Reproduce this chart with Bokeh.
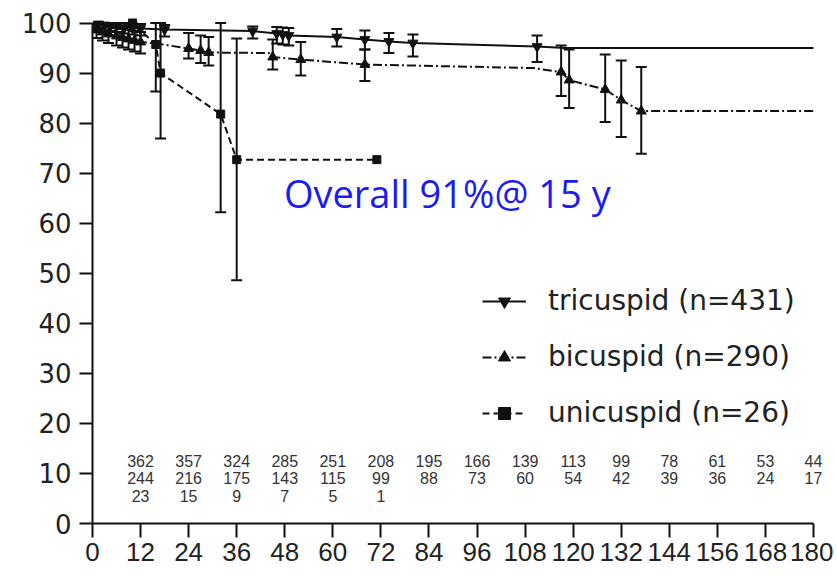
import math
from bokeh.plotting import figure
from bokeh.models import (FixedTicker, Whisker, TeeHead, ColumnDataSource,
                          Legend, LegendItem, Label, LabelSet, Range1d)
from bokeh.core.properties import value
from bokeh.embed import file_html
from bokeh.resources import INLINE

NaN = float("nan")

# ---------------- data ----------------
tri_t  = [0, 1.5, 3, 4.5, 6, 8, 10, 12, 18, 40, 46, 47.5, 49, 61, 68, 74, 80, 111, 118, 180]
tri_s  = [100, 99.8, 99.6, 99.4, 99.3, 99.1, 99.0, 98.9, 98.7, 98.4, 97.9, 97.7, 97.5, 97.2, 96.7, 96.3, 96.0, 95.3, 95.0, 95.0]
tri_lo = [NaN, 99.0, 98.7, 98.4, 98.2, 97.9, 97.7, 97.5, 97.3, 96.9, 95.9, 95.7, 95.5, 95.3, 94.7, 94.0, 93.3, 92.2, NaN, NaN]
tri_hi = [NaN, 100, 100, 100, 100, 100, 99.9, 99.8, 99.6, 99.3, 99.2, 99.1, 99.0, 98.8, 98.5, 98.0, 97.7, 97.5, NaN, NaN]
tri_mk = [0, 1, 1, 1, 1, 1, 1, 1, 1, 1, 1, 1, 1, 1, 1, 1, 1, 1, 0, 0]

bi_t  = [0, 1, 2.5, 4, 6, 7.5, 9, 10.5, 12, 16, 24, 27, 29, 44, 45, 52, 68, 110, 117, 119, 128, 132, 137, 180]
bi_s  = [100, 98.6, 98.2, 97.8, 97.4, 97.1, 96.8, 96.5, 96.2, 95.9, 94.9, 94.5, 94.1, 94.0, 93.2, 92.7, 91.7, 91.0, 90.2, 88.6, 86.7, 84.6, 82.4, 82.4]
bi_lo = [NaN, 97.0, 96.5, 96.0, 95.5, 95.1, 94.7, 94.3, 93.9, NaN, 92.9, 92.0, 91.5, NaN, 90.7, 89.5, 88.4, NaN, 85.4, 83.0, 80.2, 77.2, 73.9, NaN]
bi_hi = [NaN, 99.8, 99.6, 99.3, 99.0, 98.8, 98.6, 98.4, 98.2, NaN, 98.0, 97.5, 97.2, NaN, 96.7, 96.2, 94.7, NaN, 95.5, 94.7, 93.7, 92.5, 91.2, NaN]
bi_mk = [0, 1, 1, 1, 1, 1, 1, 1, 1, 0, 1, 1, 1, 0, 1, 1, 1, 0, 1, 1, 1, 1, 1, 0]

uni_t  = [0, 10, 15.8, 17, 32, 36, 71]
uni_s  = [100, 100, 95.7, 90.0, 81.8, 72.7, 72.7]
uni_lo = [NaN, NaN, 86.3, 76.9, 62.2, 48.6, NaN]
uni_hi = [NaN, NaN, 100, 100, 100, 96.9, NaN]
uni_mk = [0, 1, 1, 1, 1, 1, 1]

series_names = ["tricuspid (n=431)", "bicuspid (n=290)", "unicuspid (n=26)"]

risk_t = [12, 24, 36, 48, 60, 72, 84, 96, 108, 120, 132, 144, 156, 168, 180]
risk_tri = [362, 357, 324, 285, 251, 208, 195, 166, 139, 113, 99, 78, 61, 53, 44]
risk_bi  = [244, 216, 175, 143, 115, 99, 88, 73, 60, 54, 42, 39, 36, 24, 17]
risk_uni = [23, 15, 9, 7, 5, 1]

x_ticks = list(range(0, 181, 12))
y_ticks = list(range(0, 101, 10))

annotation = "Overall 91%@ 15 y"

# ---------------- figure ----------------
# frame extends a little past 180 months so the last risk column is not clipped;
# the axis line itself is bounded to 0..180
p = figure(frame_width=737, frame_height=508,
           min_border_left=92, min_border_right=4, min_border_top=15, min_border_bottom=48,
           x_range=Range1d(0, 184), y_range=Range1d(0, 101.5),
           output_backend="svg", toolbar_location=None)
p.outline_line_color = None
p.grid.visible = False
p.background_fill_color = "white"
p.border_fill_color = "white"

for ax in (p.xaxis[0], p.yaxis[0]):
    ax.axis_line_width = 2
    ax.axis_line_color = "#111111"
    ax.major_tick_line_width = 2
    ax.major_tick_line_color = "#111111"
    ax.minor_tick_line_color = None
    ax.major_tick_in = 0
    ax.major_label_text_color = "#222222"

p.xaxis.bounds = (0, 180)
p.yaxis.bounds = (0, 100)
p.xaxis.major_label_text_font = "Liberation Sans"
p.xaxis.major_label_text_font_size = "26px"
p.yaxis.major_label_text_font = "DejaVu Sans"
p.yaxis.major_label_text_font_size = "26px"

p.xaxis.ticker = FixedTicker(ticks=x_ticks)
p.yaxis.ticker = FixedTicker(ticks=y_ticks)
p.xaxis.major_tick_out = 14
p.yaxis.major_tick_out = 13
p.xaxis.major_label_standoff = 5
p.yaxis.major_label_standoff = 8

LINE = "#111111"
styles = [
    dict(dash="solid", marker="inverted_triangle", size=10),
    dict(dash="9 3 2 3", marker="triangle", size=10),
    dict(dash="7 4", marker="square", size=8),
]
data = [
    (tri_t, tri_s, tri_lo, tri_hi, tri_mk),
    (bi_t, bi_s, bi_lo, bi_hi, bi_mk),
    (uni_t, uni_s, uni_lo, uni_hi, uni_mk),
]

items = []
for (t, s, lo, hi, mk), st, name in zip(data, styles, series_names):
    ln = p.line(t, s, line_color=LINE, line_width=2, line_dash=st["dash"])
    mt = [a for a, m in zip(t, mk) if m]
    ms = [b for b, m in zip(s, mk) if m]
    sc = p.scatter(mt, ms, marker=st["marker"], size=st["size"],
                   fill_color=LINE, line_color=LINE)
    bt = [a for a, l in zip(t, lo) if not math.isnan(l)]
    bl = [l for l in lo if not math.isnan(l)]
    bh = [h for h in hi if not math.isnan(h)]
    src = ColumnDataSource(dict(base=bt, lower=bl, upper=bh))
    w = Whisker(base="base", lower="lower", upper="upper", source=src,
                dimension="height", line_color=LINE, line_width=2,
                upper_head=TeeHead(size=11, line_color=LINE, line_width=2),
                lower_head=TeeHead(size=11, line_color=LINE, line_width=2))
    p.add_layout(w)
    items.append(LegendItem(label=name, renderers=[ln, sc]))

legend = Legend(items=items, location=(390, 94),
                border_line_color=None, background_fill_alpha=0,
                padding=0, margin=0, spacing=23,
                glyph_width=44, glyph_height=30, label_height=30,
                label_standoff=22,
                label_text_font="DejaVu Sans", label_text_font_size="28px",
                label_text_color="#222222")
p.add_layout(legend)

# numbers at risk table
row_y = [12.5, 9.0, 5.45]
for rows, yy in zip([risk_tri, risk_bi, risk_uni], row_y):
    n = len(rows)
    src = ColumnDataSource(dict(x=risk_t[:n], y=[yy] * n, t=[str(v) for v in rows]))
    p.add_layout(LabelSet(x="x", y="y", text="t", source=src,
                          text_align="center", text_baseline="middle",
                          text_font=value("Liberation Sans"), text_font_size=value("16px"),
                          text_color=value("#333333")))

p.add_layout(Label(x=47.8, y=66.0, text=annotation, text_align="left",
                   text_baseline="middle", text_font="Open Sans",
                   text_font_size="38px", text_color="#1c1cf0"))

open("out.html", "w").write(file_html(p, INLINE))
